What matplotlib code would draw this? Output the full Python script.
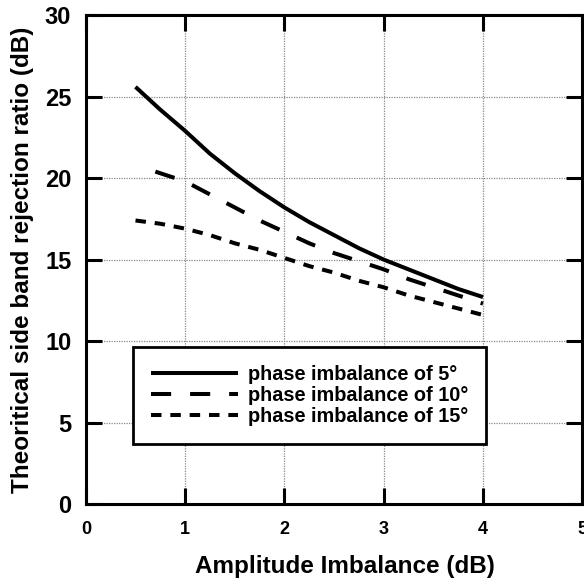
import matplotlib
matplotlib.use("Agg")
import matplotlib.pyplot as plt

plt.rcParams["font.family"] = ["Liberation Sans", "DejaVu Sans"]
plt.rcParams["font.weight"] = "bold"

# values
amp_5 = [0.5, 0.75, 1.0, 1.25, 1.5, 1.75, 2.0, 2.25, 2.5, 2.75, 3.0, 3.25, 3.5, 3.75, 4.0]
srr_5 = [25.6, 24.2, 22.9, 21.5, 20.3, 19.2, 18.2, 17.3, 16.5, 15.7, 15.0, 14.4, 13.8, 13.2, 12.7]
amp_10 = [0.7, 1.0, 1.25, 1.5, 1.75, 2.0, 2.25, 2.5, 2.75, 3.0, 3.25, 3.5, 3.75, 4.0]
srr_10 = [20.4, 19.8, 19.0, 18.2, 17.4, 16.7, 16.0, 15.4, 14.9, 14.4, 13.8, 13.3, 12.8, 12.3]
amp_15 = [0.5, 0.75, 1.0, 1.25, 1.5, 1.75, 2.0, 2.25, 2.5, 2.75, 3.0, 3.25, 3.5, 3.75, 4.0]
srr_15 = [17.4, 17.2, 16.9, 16.5, 16.0, 15.6, 15.1, 14.6, 14.2, 13.7, 13.3, 12.8, 12.4, 12.0, 11.6]
labels = ["phase imbalance of 5°", "phase imbalance of 10°", "phase imbalance of 15°"]

fig = plt.figure(figsize=(5.84, 5.84), dpi=100)
ax = fig.add_axes([0.147, 0.137, 0.85, 0.837])

lw = 2.9
ax.plot(amp_5, srr_5, color="black", lw=lw, ls="-", label=labels[0], solid_capstyle="butt")
ax.plot(amp_10, srr_10, color="black", lw=lw, ls=(0, (5, 4.7)), label=labels[1])
ax.plot(amp_15, srr_15, color="black", lw=lw, ls=(0, (2.6, 2.2)), label=labels[2])

ax.set_xlim(0, 5); ax.set_ylim(0, 30)
ax.set_xticks([0, 1, 2, 3, 4, 5]); ax.set_yticks([0, 5, 10, 15, 20, 25, 30])
ax.grid(True, color="#888888", ls=(0, (1, 1)), lw=0.9)
ax.tick_params(direction="in", length=11.5, width=2.2, top=True, right=True)
ax.tick_params(axis="x", pad=12)
ax.tick_params(axis="y", pad=10.5)
for lab in ax.get_xticklabels():
    lab.set_fontsize(13); lab.set_fontweight("bold")
for lab in ax.get_yticklabels():
    lab.set_fontsize(17); lab.set_fontweight("bold")
for s in ax.spines.values():
    s.set_linewidth(2.2)

ax.set_xlabel("Amplitude Imbalance (dB)", fontsize=17.5, fontweight="bold")
ax.xaxis.set_label_coords(0.522, -0.105)
ax.set_ylabel("Theoritical side band rejection ratio (dB)", fontsize=17.5, fontweight="bold", labelpad=7.5)

leg = ax.legend(loc="upper left", bbox_to_anchor=(0.095, 0.321), fancybox=False, framealpha=1,
                edgecolor="black", fontsize=14.3, handlelength=4.4, borderpad=0.9,
                labelspacing=0.1, handletextpad=0.5, borderaxespad=0)
leg.get_frame().set_linewidth(2)
for t in leg.get_texts():
    t.set_fontweight("bold")

fig.savefig("out.png", dpi=100)
